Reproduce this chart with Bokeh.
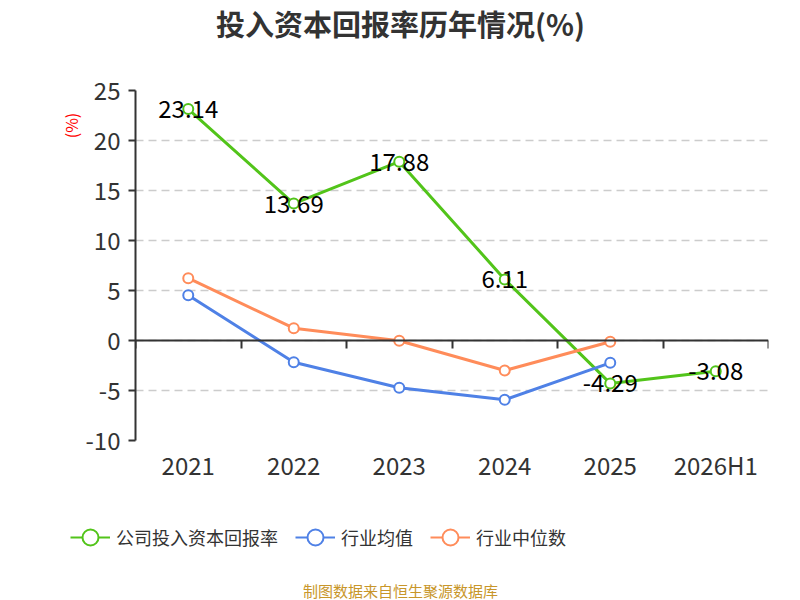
from bokeh.plotting import figure
from bokeh.layouts import column
from bokeh.models import (Range1d, LinearAxis, FixedTicker, NumeralTickFormatter, Label,
                          Legend, LegendItem)
from bokeh.core.properties import value
from bokeh.embed import file_html
from bokeh.resources import INLINE

categories = ["2021", "2022", "2023", "2024", "2025", "2026H1"]
company_roic = [23.14, 13.69, 17.88, 6.11, -4.29, -3.08]
industry_mean = [4.53, -2.17, -4.73, -5.93, -2.23]
industry_median = [6.23, 1.23, -0.03, -3.0, -0.13]
y_ticks = [-10, -5, 0, 5, 10, 15, 20, 25]

FONT = "Noto Sans CJK SC"
GREEN = "#52c41a"
BLUE = "#4f81e6"
ORANGE = "#ff8c5a"
TEXT = "#333333"

# each category sits in the middle of its slot
xs = [i + 0.5 for i in range(len(categories))]


def blank(height):
    f = figure(width=800, height=height, x_range=Range1d(0, 800), y_range=Range1d(0, height),
               x_axis_location=None, y_axis_location=None, min_border=0,
               output_backend="svg", toolbar_location=None)
    f.frame_align = False
    f.outline_line_color = None
    f.xgrid.grid_line_color = None
    f.ygrid.grid_line_color = None
    return f


# title strip
head = blank(50)
head.add_layout(Label(x=400, y=28, text="投入资本回报率历年情况(%)", text_align="center",
                      text_baseline="middle", text_font=FONT, text_font_size="29px",
                      text_font_style="bold", text_color=TEXT))

# main chart
p = figure(width=800, height=450, x_range=Range1d(0, len(categories)),
           y_range=Range1d(-10, 25), output_backend="svg", toolbar_location=None,
           min_border_left=135, min_border_right=32, min_border_top=40, min_border_bottom=60)
p.frame_align = False
p.outline_line_color = None

p.xaxis.ticker = FixedTicker(ticks=xs)
p.xaxis.major_label_overrides = {x: c for x, c in zip(xs, categories)}
p.xaxis.axis_line_color = None
p.xaxis.major_tick_line_color = None
p.xaxis.major_tick_out = 0
p.xaxis.minor_tick_line_color = None
p.xaxis.major_label_text_font = FONT
p.xaxis.major_label_text_font_size = "24px"
p.xaxis.major_label_text_color = TEXT
p.xaxis.major_label_standoff = 6
p.xgrid.grid_line_color = None

# axis line through zero with ticks between categories
zero_axis = LinearAxis(fixed_location=0, ticker=FixedTicker(ticks=list(range(len(categories) + 1))))
zero_axis.axis_line_color = TEXT
zero_axis.axis_line_width = 2
zero_axis.major_tick_line_color = TEXT
zero_axis.major_tick_line_width = 2
zero_axis.major_tick_in = 0
zero_axis.major_tick_out = 8
zero_axis.minor_tick_line_color = None
zero_axis.major_label_standoff = 0
zero_axis.major_label_text_font_size = "0px"
p.add_layout(zero_axis, "below")

p.yaxis.ticker = FixedTicker(ticks=y_ticks)
p.yaxis.formatter = NumeralTickFormatter(format="0")
p.yaxis.axis_line_color = TEXT
p.yaxis.axis_line_width = 2
p.yaxis.major_tick_line_color = TEXT
p.yaxis.major_tick_line_width = 2
p.yaxis.major_tick_in = 0
p.yaxis.major_tick_out = 7
p.yaxis.minor_tick_line_color = None
p.yaxis.major_label_text_font = FONT
p.yaxis.major_label_text_font_size = "24px"
p.yaxis.major_label_text_color = TEXT
p.yaxis.major_label_standoff = 8
p.ygrid.ticker = FixedTicker(ticks=y_ticks)
p.ygrid.grid_line_color = "#cccccc"
p.ygrid.grid_line_width = 1.5
p.ygrid.grid_line_dash = "8 5"

# unit label near the top of the value axis
unit_axis = LinearAxis(ticker=FixedTicker(ticks=[21.5]), major_label_overrides={21.5: "(%)"})
unit_axis.axis_line_color = None
unit_axis.major_tick_line_color = None
unit_axis.major_tick_out = 0
unit_axis.minor_tick_line_color = None
unit_axis.major_label_orientation = "vertical"
unit_axis.major_label_standoff = 0
unit_axis.major_label_text_font = FONT
unit_axis.major_label_text_font_size = "16px"
unit_axis.major_label_text_color = "red"
p.add_layout(unit_axis, "left")

p.line(xs, company_roic, line_color=GREEN, line_width=3)
p.scatter(xs, company_roic, size=10, line_color=GREEN, line_width=2, fill_color="white")
p.line(xs[:5], industry_mean, line_color=BLUE, line_width=3)
p.scatter(xs[:5], industry_mean, size=10, line_color=BLUE, line_width=2, fill_color="white")
p.line(xs[:5], industry_median, line_color=ORANGE, line_width=3)
p.scatter(xs[:5], industry_median, size=10, line_color=ORANGE, line_width=2, fill_color="white")

p.text(xs, company_roic, text=[f"{v:.2f}" for v in company_roic],
       text_align="center", text_baseline="middle", text_font=value(FONT),
       text_font_size="24px", text_color="black")

# legend and source strip; the legend's renderers are hidden, only their swatches show
foot = blank(100)
items = []
for name, color, ys in [("公司投入资本回报率", GREEN, company_roic),
                        ("行业均值", BLUE, industry_mean),
                        ("行业中位数", ORANGE, industry_median)]:
    lr = foot.line(xs[:len(ys)], ys, line_color=color, line_width=2, visible=False)
    sr = foot.scatter(xs[:len(ys)], ys, line_color=color, line_width=2, fill_color="white",
                      visible=False)
    items.append(LegendItem(label=name, renderers=[lr, sr]))
legend = Legend(items=items, orientation="horizontal", location=(70, 43),
                glyph_width=40, glyph_height=40, label_standoff=6, spacing=17,
                padding=0, margin=0, background_fill_color=None, border_line_color=None,
                inactive_fill_alpha=0, click_policy="none",
                label_text_font=FONT, label_text_font_size="18px", label_text_color=TEXT)
foot.add_layout(legend)
foot.add_layout(Label(x=400, y=10, text="制图数据来自恒生聚源数据库", text_align="center",
                      text_baseline="middle", text_font=FONT, text_font_size="15px",
                      text_color="#c8962a"))

layout = column(head, p, foot, spacing=0)
open("out.html", "w").write(file_html(layout, INLINE))
